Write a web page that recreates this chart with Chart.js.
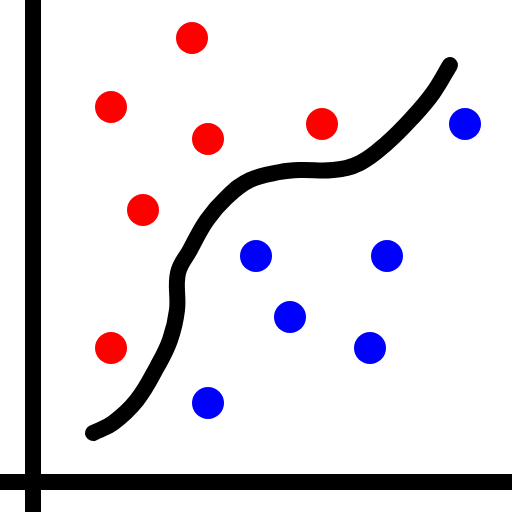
<!DOCTYPE html>
<html>
<head>
<meta charset="utf-8">
<script src="https://cdn.jsdelivr.net/npm/chart.js@4"></script>
<style>
html,body{margin:0;padding:0;background:#fff;}
#c{display:block;}
</style>
</head>
<body>
<canvas id="c" width="512" height="512"></canvas>
<script>
// Coordinates relative to the axes origin (x to the right, y upward)
const redX = [159, 78, 175, 289, 110, 78];
const redY = [444, 375, 343, 358, 272, 134];
const blueX = [432, 223, 354, 257, 337, 175];
const blueY = [358, 226, 226, 165, 134, 79];
const curveX = [60, 80, 104, 124, 137, 144, 145, 157, 174, 194, 217, 247, 267, 300, 327, 354, 380, 400, 417];
const curveY = [49, 59, 82, 115, 142, 172, 209, 232, 262, 285, 302, 310, 312, 312, 319, 339, 365, 389, 417];
const xAxisX = [-33, 479];
const xAxisY = [0, 0];
const yAxisX = [0, 0];
const yAxisY = [-30, 482];

const pts = (xs, ys) => xs.map((x, i) => ({x: x, y: ys[i]}));

new Chart(document.getElementById('c'), {
  type: 'scatter',
  data: {
    datasets: [
      {type: 'line', data: pts(xAxisX, xAxisY), borderColor: '#000', borderWidth: 16, pointRadius: 0, borderCapStyle: 'butt', fill: false},
      {type: 'line', data: pts(yAxisX, yAxisY), borderColor: '#000', borderWidth: 16, pointRadius: 0, borderCapStyle: 'butt', fill: false},
      {type: 'line', data: pts(curveX, curveY), borderColor: '#000', borderWidth: 16, pointRadius: 0, borderCapStyle: 'round', borderJoinStyle: 'round', tension: 0.4, fill: false},
      {data: pts(redX, redY), backgroundColor: '#ff0000', borderWidth: 0, pointRadius: 16, pointHoverRadius: 16},
      {data: pts(blueX, blueY), backgroundColor: '#0000ff', borderWidth: 0, pointRadius: 16, pointHoverRadius: 16}
    ]
  },
  options: {
    responsive: false,
    animation: false,
    layout: {padding: 0, autoPadding: false},
    plugins: {legend: {display: false}, tooltip: {enabled: false}},
    events: [],
    scales: {
      x: {type: 'linear', min: -33, max: 479, display: false},
      y: {type: 'linear', min: -30, max: 482, display: false}
    }
  }
});
</script>
</body>
</html>
